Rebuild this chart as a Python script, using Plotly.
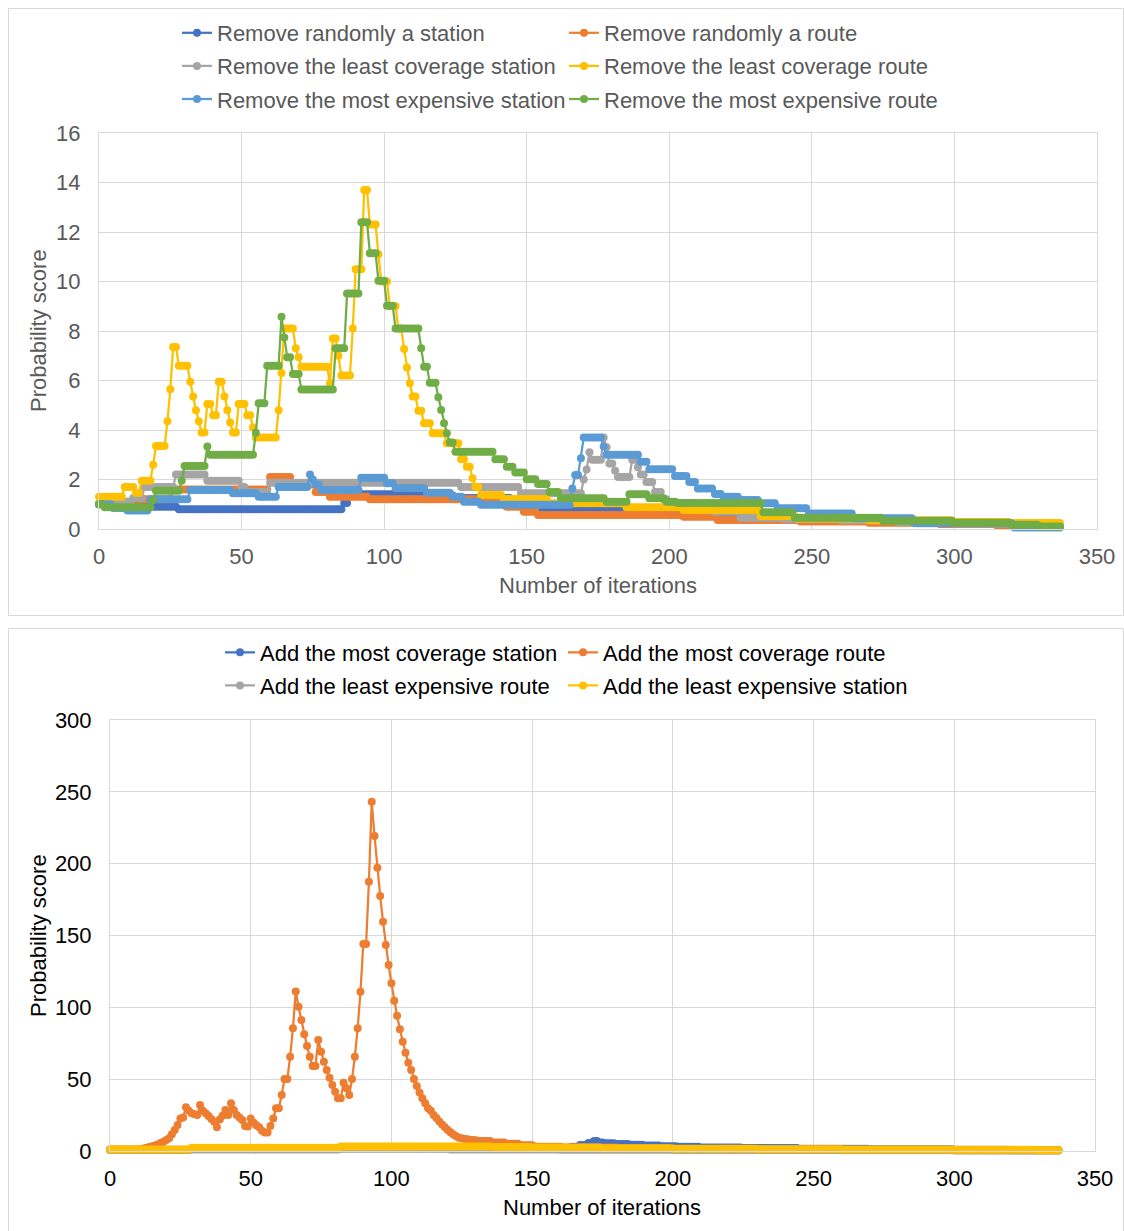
import plotly.graph_objects as go

W, H = 1124, 1231
N_ITER = 338
iterations = list(range(N_ITER))

FONT = "Liberation Sans, Arial, sans-serif"
GRID = "#D9D9D9"
TXT_TOP = "#595959"
TXT_BOT = "#000000"

C_BLUE = "#4472C4"
C_ORANGE = "#ED7D31"
C_GRAY = "#A5A5A5"
C_YELLOW = "#FFC000"
C_LBLUE = "#5B9BD5"
C_GREEN = "#70AD47"

# Each series is a list of (first iteration, probability score); the score holds
# until the next entry.

# ---- removal operators ----
rm_random_station = [(0, 1.0), (3, 0.9), (28, 0.8), (86, 1.05), (88, 1.4), (104, 1.35),
                     (125, 1.25), (145, 1.0), (155, 0.85), (183, 0.8), (196, 0.7), (212, 0.62),
                     (225, 0.5), (240, 0.42), (255, 0.35), (275, 0.28), (295, 0.22),
                     (315, 0.15), (330, 0.1)]

rm_random_route = [(0, 1.0), (4, 1.1), (14, 1.2), (26, 1.6), (60, 2.1), (68, 1.8), (76, 1.5),
                   (81, 1.3), (95, 1.2), (138, 1.1), (143, 0.9), (149, 0.7), (154, 0.57),
                   (205, 0.5), (217, 0.36), (246, 0.3), (270, 0.25), (295, 0.2), (315, 0.15),
                   (330, 0.12)]

rm_least_cov_station = [(0, 1.0), (5, 1.1), (12, 1.25), (16, 1.7), (27, 2.2), (38, 1.95),
                        (50, 1.7), (52, 1.5), (60, 1.87), (127, 1.7), (148, 1.44), (170, 2.0),
                        (171, 2.4), (172, 3.1), (173, 2.8), (177, 3.7), (178, 3.3), (179, 2.65),
                        (181, 2.35), (182, 2.1), (187, 2.8), (189, 2.5), (190, 2.2), (192, 1.9),
                        (195, 1.5), (198, 1.2), (200, 1.05), (208, 0.9), (216, 0.7), (225, 0.45),
                        (240, 0.4), (260, 0.35), (280, 0.28), (300, 0.22), (320, 0.15),
                        (330, 0.1)]

rm_least_cov_route = [(0, 1.3), (9, 1.7), (13, 1.45), (15, 1.95), (19, 2.6), (20, 3.35),
                      (24, 4.35), (25, 5.65), (26, 7.35), (28, 6.6), (32, 5.95), (33, 5.35),
                      (34, 4.8), (35, 4.35), (36, 3.9), (38, 5.05), (40, 4.6), (42, 5.95),
                      (44, 5.35), (45, 4.8), (46, 4.3), (47, 3.9), (49, 5.05), (52, 4.6),
                      (54, 4.1), (55, 3.7), (63, 4.8), (64, 6.3), (65, 8.1), (69, 7.3),
                      (70, 6.94), (71, 6.56), (81, 5.9), (82, 7.7), (84, 7.0), (85, 6.2),
                      (89, 8.1), (90, 10.5), (93, 13.7), (95, 12.3), (98, 11.1), (99, 10.0),
                      (102, 9.0), (105, 8.1), (107, 7.27), (108, 6.53), (109, 5.89),
                      (110, 5.35), (112, 4.78), (114, 4.27), (117, 3.87), (122, 3.46),
                      (127, 2.82), (129, 2.52), (131, 2.05), (132, 1.71), (134, 1.37),
                      (142, 1.21), (158, 1.04), (185, 0.88), (205, 0.77), (232, 0.53),
                      (245, 0.42), (270, 0.35), (300, 0.28), (320, 0.24)]

rm_expensive_station = [(0, 1.0), (5, 0.85), (10, 0.75), (18, 1.2), (32, 1.58), (47, 1.44),
                        (56, 1.3), (63, 1.7), (74, 2.2), (75, 2.0), (76, 1.8), (78, 1.58),
                        (92, 2.07), (101, 1.85), (104, 1.65), (115, 1.46), (124, 1.3),
                        (128, 1.1), (134, 0.98), (166, 1.64), (167, 2.18), (169, 2.86),
                        (170, 3.7), (177, 3.33), (178, 3.0), (190, 2.72), (193, 2.41),
                        (202, 2.14), (207, 1.9), (210, 1.64), (216, 1.41), (219, 1.3),
                        (225, 1.17), (232, 1.04), (238, 0.84), (249, 0.63), (265, 0.43),
                        (286, 0.23), (321, 0.06)]

rm_expensive_route = [(0, 1.0), (2, 0.88), (19, 1.17), (20, 1.55), (29, 1.95), (30, 2.55),
                      (38, 3.33), (39, 3.0), (55, 3.89), (56, 5.08), (59, 6.6), (64, 8.58),
                      (65, 7.74), (66, 6.94), (68, 6.26), (71, 5.64), (83, 7.3), (87, 9.52),
                      (92, 12.39), (95, 11.14), (98, 10.03), (101, 9.02), (104, 8.1),
                      (113, 7.3), (114, 6.56), (116, 5.91), (119, 5.32), (120, 4.81),
                      (121, 4.27), (122, 3.87), (123, 3.49), (125, 3.12), (139, 2.82),
                      (143, 2.52), (146, 2.28), (150, 2.01), (154, 1.82), (158, 1.5),
                      (162, 1.24), (178, 1.1), (186, 1.4), (193, 1.24), (199, 1.1),
                      (203, 1.05), (233, 0.68), (244, 0.45), (275, 0.33), (300, 0.25),
                      (320, 0.17), (330, 0.1)]

# ---- addition operators ----
add_cov_station = [(0, 0.9), (29, 1.5), (82, 2.0), (130, 1.8), (160, 2.0), (164, 3.0),
                   (167, 4.2), (170, 5.6), (172, 7.0), (174, 6.0), (176, 5.4), (180, 4.9),
                   (185, 4.4), (190, 3.8), (196, 3.3), (202, 2.9), (210, 2.5), (225, 2.1),
                   (245, 1.6), (270, 1.2), (300, 0.8), (320, 0.6)]

add_cov_route = [(0, 1.0), (11, 1.3), (12, 1.7), (13, 2.2), (14, 2.8), (15, 3.3), (16, 3.9),
                 (17, 4.6), (18, 5.5), (19, 6.5), (20, 7.6), (21, 8.8), (22, 11.6), (23, 14.6),
                 (24, 18.1), (25, 22.7), (26, 23.4), (27, 30.4), (28, 28.0), (29, 26.2),
                 (30, 25.5), (31, 25.0), (32, 32.0), (33, 28.1), (34, 26.2), (35, 24.4),
                 (36, 22.3), (37, 20.4), (38, 16.5), (39, 22.0), (40, 24.5), (41, 28.5),
                 (42, 25.1), (43, 33.2), (44, 28.5), (45, 25.1), (46, 23.3), (47, 21.6),
                 (48, 17.4), (49, 17.0), (50, 22.7), (51, 19.7), (52, 18.0), (53, 16.5),
                 (54, 14.1), (55, 12.8), (56, 12.8), (57, 17.4), (58, 22.7), (59, 29.7),
                 (60, 29.7), (61, 39.0), (62, 50.1), (63, 50.1), (64, 65.6), (65, 85.4),
                 (66, 111.0), (67, 100.4), (68, 91.2), (69, 81.2), (70, 73.1), (71, 65.6),
                 (72, 59.2), (73, 59.2), (74, 77.2), (75, 69.1), (76, 62.1), (77, 56.4),
                 (78, 51.0), (79, 45.9), (80, 41.3), (81, 36.7), (82, 36.7), (83, 47.5),
                 (84, 43.6), (85, 39.0), (86, 50.1), (87, 65.6), (88, 85.4), (89, 110.9),
                 (90, 144.0), (91, 144.0), (92, 187.4), (93, 243.1), (94, 219.2),
                 (95, 197.2), (96, 177.5), (97, 159.6), (98, 143.4), (99, 129.4),
                 (100, 116.7), (101, 104.6), (102, 94.2), (103, 84.7), (104, 76.1),
                 (105, 68.4), (106, 61.5), (107, 56.4), (108, 50.1), (109, 45.2),
                 (110, 40.8), (111, 36.7), (112, 33.2), (113, 29.7), (114, 28.0),
                 (115, 25.1), (116, 23.0), (117, 20.5), (118, 18.5), (119, 16.5),
                 (120, 14.6), (121, 13.0), (122, 11.5), (123, 10.3), (124, 9.3),
                 (125, 8.8), (126, 8.4), (127, 8.1), (128, 7.9), (129, 7.7), (130, 7.5),
                 (131, 7.0), (136, 6.0), (141, 5.0), (146, 4.0), (151, 3.0), (161, 2.5),
                 (181, 2.0), (201, 1.6), (231, 1.2), (261, 0.9), (301, 0.6)]

add_cheap_route = [(0, 0.7), (29, 1.0), (82, 1.5), (121, 1.0), (160, 0.9), (200, 0.7),
                   (260, 0.5), (300, 0.4)]

add_cheap_station = [(0, 1.0), (29, 2.2), (82, 3.2), (136, 2.8), (150, 2.4), (175, 2.0),
                     (200, 1.6), (230, 1.3), (260, 1.0), (300, 0.8), (330, 0.6)]


def expand(steps, n=N_ITER):
    vals = []
    for k, (start, v) in enumerate(steps):
        stop = steps[k + 1][0] if k + 1 < len(steps) else n
        vals.extend([v] * (stop - start))
    return vals


def px_x(p):
    return p / W


def px_y(p):
    return 1 - p / H


fig = go.Figure()

top_series = [
    ("Remove randomly a station", rm_random_station, C_BLUE, "legend"),
    ("Remove randomly a route", rm_random_route, C_ORANGE, "legend2"),
    ("Remove the least coverage station", rm_least_cov_station, C_GRAY, "legend"),
    ("Remove the least coverage route", rm_least_cov_route, C_YELLOW, "legend2"),
    ("Remove the most expensive station", rm_expensive_station, C_LBLUE, "legend"),
    ("Remove the most expensive route", rm_expensive_route, C_GREEN, "legend2"),
]
for name, steps, color, lg in top_series:
    fig.add_trace(go.Scatter(
        x=iterations, y=expand(steps), name=name, legendgroup=name, mode="lines+markers",
        line=dict(color=color, width=2.25), marker=dict(color=color, size=8),
        xaxis="x", yaxis="y", legend=lg, cliponaxis=False))

bottom_series = [
    ("Add the most coverage station", add_cov_station, C_BLUE, "legend3"),
    ("Add the most coverage route", add_cov_route, C_ORANGE, "legend4"),
    ("Add the least expensive route", add_cheap_route, C_GRAY, "legend3"),
    ("Add the least expensive station", add_cheap_station, C_YELLOW, "legend4"),
]
for name, steps, color, lg in bottom_series:
    fig.add_trace(go.Scatter(
        x=iterations, y=expand(steps), name=name, legendgroup=name, mode="lines+markers",
        line=dict(color=color, width=2.25), marker=dict(color=color, size=8),
        xaxis="x2", yaxis="y2", legend=lg, cliponaxis=False))


def axis(domain, rng, dtick, color, anchor, standoff):
    return dict(domain=domain, range=rng, dtick=dtick, tick0=0, anchor=anchor,
                showgrid=True, gridcolor=GRID, gridwidth=1, zeroline=False,
                showline=True, mirror=True, linecolor=GRID, linewidth=1, ticks="",
                automargin=False, ticklabelstandoff=standoff,
                tickfont=dict(family=FONT, size=22, color=color), fixedrange=True)


def legend(x, y, color):
    return dict(x=x, y=y, xanchor="left", yanchor="top", orientation="v",
                bgcolor="rgba(0,0,0,0)", borderwidth=0, itemwidth=30,
                tracegroupgap=1.5, traceorder="grouped",
                font=dict(family=FONT, size=22, color=color))


fig.update_layout(
    width=W, height=H, margin=dict(l=0, r=0, t=0, b=0, pad=0, autoexpand=False),
    paper_bgcolor="white", plot_bgcolor="white", showlegend=True,
    xaxis=axis([px_x(99), px_x(1097)], [0, 350], 50, TXT_TOP, "y", 8),
    yaxis=axis([px_y(529), px_y(133)], [0, 16], 2, TXT_TOP, "x", 13),
    xaxis2=axis([px_x(110), px_x(1095)], [0, 350], 50, TXT_BOT, "y2", 8),
    yaxis2=axis([px_y(1151), px_y(720)], [0, 300], 50, TXT_BOT, "x2", 13),
    legend=legend(px_x(177), px_y(12), TXT_TOP),
    legend2=legend(px_x(564), px_y(12), TXT_TOP),
    legend3=legend(px_x(220), px_y(631.5), TXT_BOT),
    legend4=legend(px_x(563), px_y(631.5), TXT_BOT),
)

# chart frames
for y0, y1 in [(8.5, 615.5), (628.5, 1240)]:
    fig.add_shape(type="rect", xref="paper", yref="paper",
                  x0=px_x(8.5), x1=px_x(1123.5), y0=px_y(y1), y1=px_y(y0),
                  line=dict(color=GRID, width=1), fillcolor="rgba(0,0,0,0)", layer="below")

titles = [
    ("Number of iterations", 598, 585, 0, TXT_TOP),
    ("Probability score", 38, 331, -90, TXT_TOP),
    ("Number of iterations", 602, 1207, 0, TXT_BOT),
    ("Probability score", 38, 936, -90, TXT_BOT),
]
for text, cx, cy, ang, color in titles:
    fig.add_annotation(text=text, xref="paper", yref="paper", x=px_x(cx), y=px_y(cy),
                       xanchor="center", yanchor="middle", showarrow=False, textangle=ang,
                       font=dict(family=FONT, size=22, color=color))

fig.write_html("out.html")
